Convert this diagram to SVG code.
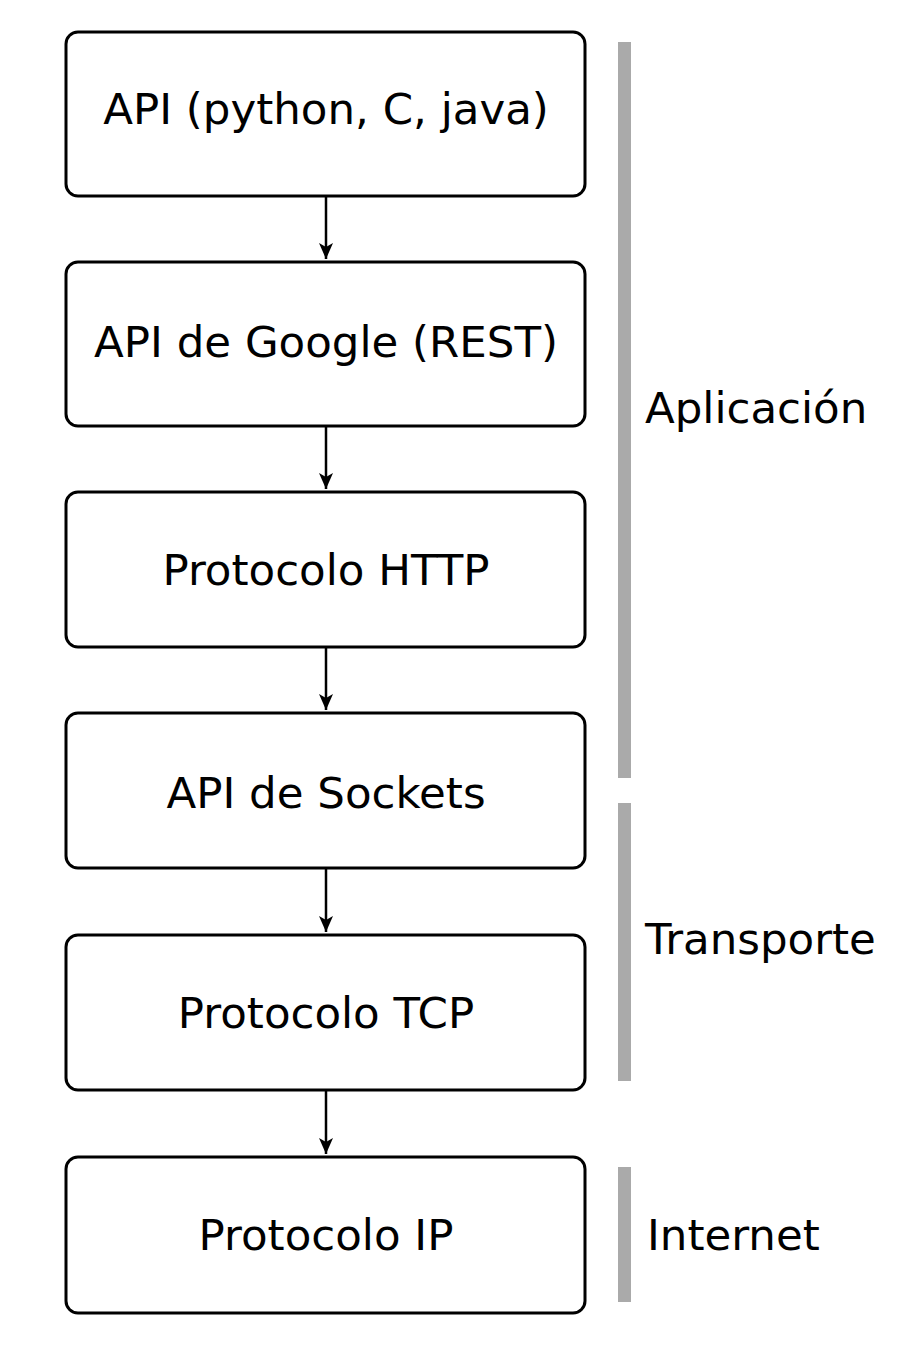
<svg xmlns="http://www.w3.org/2000/svg" width="910" height="1364" viewBox="0 0 910 1364">
<defs>
<style>
.box{fill:#fff;stroke:#000;stroke-width:3}
.t{font-family:"DejaVu Sans",sans-serif;font-size:43.5px;fill:#000;text-anchor:middle}
.s{font-family:"DejaVu Sans",sans-serif;font-size:43.5px;fill:#000}
.bar{fill:#aaaaaa}
.c{stroke:#000;stroke-width:2.5;fill:none}
.h{fill:#000}
</style>
</defs>
<rect width="910" height="1364" fill="#fff"/>
<g id="connectors">
<path class="c" d="M326,197 V259"/>
<path class="h" d="M319,243 L326,247 L333,243 L326,259 Z"/>
<path class="c" d="M326,427 V489"/>
<path class="h" d="M319,473 L326,477 L333,473 L326,489 Z"/>
<path class="c" d="M326,648 V710"/>
<path class="h" d="M319,694 L326,698 L333,694 L326,710 Z"/>
<path class="c" d="M326,869 V932"/>
<path class="h" d="M319,916 L326,920 L333,916 L326,932 Z"/>
<path class="c" d="M326,1091 V1154"/>
<path class="h" d="M319,1138 L326,1142 L333,1138 L326,1154 Z"/>
</g>
<g id="n1"><rect class="box" x="66" y="32" width="519" height="164" rx="12"/><text class="t" x="326" y="124">API (python, C, java)</text></g>
<g id="n2"><rect class="box" x="66" y="262" width="519" height="164" rx="12"/><text class="t" x="326" y="357">API de Google (REST)</text></g>
<g id="n3"><rect class="box" x="66" y="492" width="519" height="155" rx="12"/><text class="t" x="326" y="585">Protocolo HTTP</text></g>
<g id="n4"><rect class="box" x="66" y="713" width="519" height="155" rx="12"/><text class="t" x="326" y="808">API de Sockets</text></g>
<g id="n5"><rect class="box" x="66" y="935" width="519" height="155" rx="12"/><text class="t" x="326" y="1028">Protocolo TCP</text></g>
<g id="n6"><rect class="box" x="66" y="1157" width="519" height="156" rx="12"/><text class="t" x="326" y="1250">Protocolo IP</text></g>
<g id="layers">
<rect class="bar" x="618" y="42" width="13" height="736"/>
<rect class="bar" x="618" y="803" width="13" height="278"/>
<rect class="bar" x="618" y="1167" width="13" height="135"/>
<text class="s" x="645" y="423">Aplicación</text>
<text class="s" x="645" y="954">Transporte</text>
<text class="s" x="647" y="1250">Internet</text>
</g>
</svg>
